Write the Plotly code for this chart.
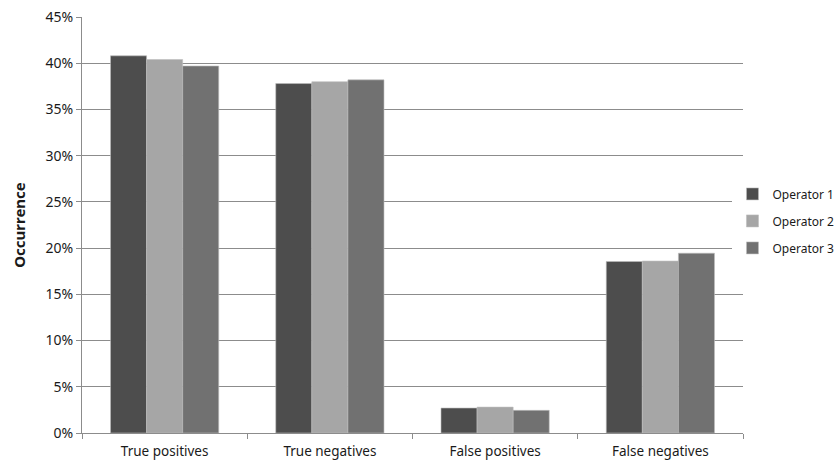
import plotly.graph_objects as go

categories = ["True positives", "True negatives", "False positives", "False negatives"]
operator1 = [40.8, 37.8, 2.7, 18.55]
operator2 = [40.4, 38.0, 2.8, 18.6]
operator3 = [39.7, 38.2, 2.45, 19.45]
series_names = ["Operator 1", "Operator 2", "Operator 3"]
colors = ["#4d4d4d", "#a6a6a6", "#717171"]
y_ticks = [0, 5, 10, 15, 20, 25, 30, 35, 40, 45]
y_tick_labels = [f"{v}%" for v in y_ticks]

font = "'Noto Sans', 'Open Sans', sans-serif"
fig = go.Figure()
for i, (name, vals) in enumerate(zip(series_names, [operator1, operator2, operator3])):
    fig.add_trace(go.Bar(
        x=categories, y=vals, name=name, legendgroup=name,
        marker=dict(color=colors[i], line=dict(color="#bdbdbd", width=0.6)),
    ))

fig.update_layout(
    width=840, height=470,
    margin=dict(l=82, r=97, t=17, b=37, autoexpand=False),
    paper_bgcolor="white", plot_bgcolor="white",
    barmode="group", bargap=0.345, bargroupgap=0,
    font=dict(family=font, size=14, color="#1a1a1a"),
    legend=dict(xref="container", yref="container", x=0.872, y=0.53,
                xanchor="left", yanchor="middle",
                font=dict(size=12, color="#1a1a1a"), tracegroupgap=8,
                traceorder="grouped", itemwidth=30),
    xaxis=dict(showline=True, linecolor="#8c8c8c", linewidth=1, automargin=False,
               ticks="outside", tickson="boundaries", ticklen=5, tickcolor="#8c8c8c",
               tickfont=dict(size=13.5), showgrid=False, ticklabelstandoff=6),
    yaxis=dict(range=[0, 45], tickvals=y_ticks, ticktext=y_tick_labels, automargin=False,
               showline=True, linecolor="#8c8c8c", linewidth=1,
               ticks="outside", ticklen=5, tickcolor="#8c8c8c",
               gridcolor="#8c8c8c", gridwidth=1, zeroline=False,
               tickfont=dict(size=14),
               title=dict(text="<b>Occurrence</b>", font=dict(size=15), standoff=16)),
)
fig.write_html("out.html", config={"displayModeBar": False},
               post_script="document.body.style.margin='0px';document.body.style.overflow='hidden';")
